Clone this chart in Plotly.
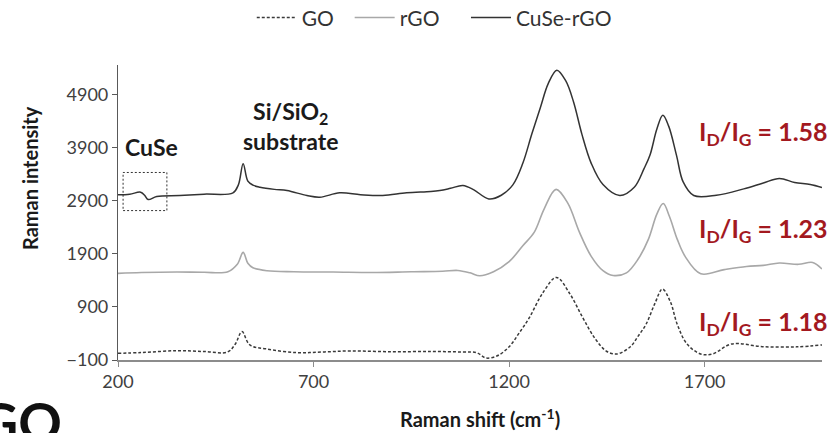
import plotly.graph_objects as go

# Raman shift (cm-1) / intensity, one list per spectrum
go_x = [200, 260, 350, 420, 480, 500, 517, 537, 580, 657, 720, 793, 900, 1000, 1080, 1117,
        1141, 1170, 1200, 1225, 1252, 1285, 1321, 1355, 1388, 1420, 1450, 1476, 1510, 1530,
        1550, 1572, 1592, 1612, 1630, 1655, 1690, 1720, 1769, 1848, 1935, 2000]
go_y = [26, 40, 75, 60, 50, 200, 434, 183, 108, 38, 50, 70, 55, 60, 50, 38,
        -62, -20, 150, 400, 700, 1150, 1453, 1150, 700, 300, 60, 13, 150, 350,
        570, 950, 1234, 1000, 570, 200, 13, 13, 202, 151, 147, 183]

rgo_x = [200, 260, 350, 420, 481, 505, 520, 532, 545, 581, 650, 750, 850, 950, 1030, 1069,
         1100, 1125, 1160, 1200, 1235, 1264, 1290, 1320, 1350, 1380, 1410, 1440, 1466, 1500,
         1530, 1556, 1578, 1594, 1610, 1630, 1650, 1690, 1750, 1807, 1850, 1891, 1940, 1976, 2000]
rgo_y = [1530, 1545, 1555, 1550, 1560, 1700, 1925, 1720, 1636, 1579, 1560, 1555, 1545, 1560, 1570, 1585,
         1540, 1485, 1560, 1750, 2050, 2300, 2750, 3110, 2850, 2300, 1850, 1580, 1490, 1540,
         1800, 2170, 2650, 2843, 2600, 2170, 1850, 1523, 1600, 1660, 1680, 1724, 1700, 1736, 1611]

cuse_x = [200, 230, 258, 268, 277, 299, 358, 420, 494, 508, 520, 532, 545, 563, 600, 632,
          683, 716, 767, 820, 877, 938, 1000, 1023, 1050, 1082, 1110, 1148, 1180, 1210,
          1235, 1258, 1280, 1300, 1322, 1345, 1365, 1386, 1410, 1440, 1483, 1520, 1545, 1560,
          1578, 1593, 1608, 1628, 1645, 1672, 1730, 1800, 1850, 1891, 1930, 1970, 2000]
cuse_y = [3008, 3020, 3057, 3000, 2919, 2975, 2994, 3020, 3045, 3200, 3593, 3264, 3190, 3151, 3110, 3089,
          2994, 2963, 3045, 3010, 2994, 3045, 3070, 3089, 3130, 3183, 3100, 2931, 3000, 3200,
          3600, 4150, 4650, 5100, 5353, 5150, 4750, 4150, 3600, 3200, 2994, 3150, 3500, 3750,
          4250, 4505, 4300, 3750, 3250, 2994, 3000, 3120, 3230, 3315, 3240, 3200, 3145]

y_ticks = [-100, 900, 1900, 2900, 3900, 4900]
x_ticks = [200, 700, 1200, 1700]
ratio_labels = ["1.58", "1.23", "1.18"]

FONT = "Lato, 'Open Sans', sans-serif"
RED = "#A3191F"
DARK = "#1a1a1a"
NB = "\u00a0"

fig = go.Figure()
fig.add_scatter(x=go_x, y=go_y, name="GO" + NB * 2, mode="lines", line_shape="spline",
                line=dict(color="#3a3a3a", width=1.5, dash="3px,2px"))
fig.add_scatter(x=rgo_x, y=rgo_y, name="rGO" + NB * 4, mode="lines", line_shape="spline",
                line=dict(color="#a8a8a8", width=1.6))
fig.add_scatter(x=cuse_x, y=cuse_y, name="CuSe-rGO", mode="lines", line_shape="spline",
                line=dict(color="#333333", width=1.5))

fig.update_layout(
    width=835, height=433,
    margin=dict(l=118, r=13, t=65, b=73, autoexpand=False),
    plot_bgcolor="white", paper_bgcolor="white",
    font=dict(family=FONT, size=18, color="#404040"),
    legend=dict(orientation="h", x=0.19, xanchor="left", y=1.16, yanchor="middle",
                font=dict(size=21, color="#333333"), itemwidth=40, tracegroupgap=0),
)
fig.update_xaxes(range=[200, 2000], tickvals=x_ticks, showgrid=False, zeroline=False,
                 showline=True, linecolor="#8c8c8c", linewidth=1.5,
                 ticks="outside", ticklen=5, tickcolor="#8c8c8c")
fig.update_yaxes(range=[-100, 5450], tickvals=y_ticks, showgrid=False, zeroline=False,
                 showline=True, linecolor="#595959", linewidth=1.2,
                 ticks="outside", ticklen=5, tickcolor="#595959")

# axis titles placed as annotations (they sit off-centre in the original)
fig.add_annotation(xref="paper", yref="paper", x=0.514, y=-0.197, xanchor="center",
                   yanchor="middle", text="<b>Raman shift (cm<sup>-1</sup>)</b>",
                   showarrow=False, font=dict(size=20, color=DARK))
fig.add_annotation(xref="paper", yref="paper", x=-0.125, y=0.617, xanchor="center",
                   yanchor="middle", textangle=-90, text="<b>Raman intensity</b>",
                   showarrow=False, font=dict(size=20, color=DARK))

# CuSe marker box and labels
fig.add_shape(type="rect", x0=213, x1=325, y0=2711, y1=3428,
              line=dict(color="#333333", width=1, dash="2px,2px"))
fig.add_annotation(x=286, y=3900, text="<b>CuSe</b>", showarrow=False,
                   font=dict(size=23, color=DARK))
fig.add_annotation(x=642, y=4296, text="<b>Si/SiO<sub>2</sub><br>substrate</b>",
                   showarrow=False, font=dict(size=23, color=DARK))

for label, py in zip(ratio_labels, [0.77, 0.441, 0.125]):
    fig.add_annotation(xref="paper", yref="paper", x=0.822, y=py, xanchor="left",
                       yanchor="middle",
                       text=f"<b>I<sub>D</sub>/I<sub>G</sub> = {label}</b>",
                       showarrow=False, font=dict(size=25, color=RED))

# clipped panel label from the neighbouring figure
fig.add_annotation(xref="paper", yref="paper", x=-0.2, y=-0.09, xanchor="left",
                   yanchor="top", text="<b>GO</b>", showarrow=False,
                   font=dict(size=54, color="#111111"))

fig.write_html("out.html", config={"displayModeBar": False},
               post_script="document.body.style.margin='0';")
